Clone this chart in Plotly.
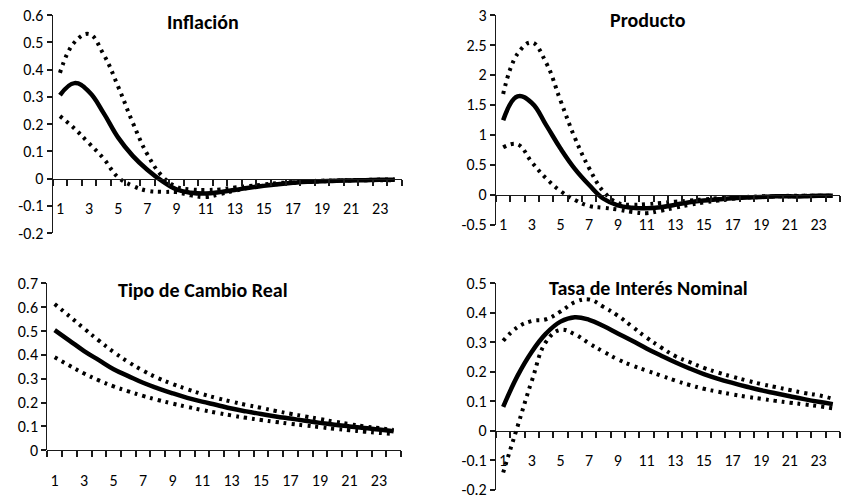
import plotly.graph_objects as go

periods = list(range(1, 25))
x_tick_labels = ['1', '3', '5', '7', '9', '11', '13', '15', '17', '19', '21', '23']

titles = ['Inflación', 'Producto', 'Tipo de Cambio Real', 'Tasa de Interés Nominal']

infl_mean = [0.306, 0.35, 0.318, 0.24, 0.15, 0.083, 0.032, -0.009, -0.04, -0.052, -0.055, -0.05,
             -0.042, -0.034, -0.027, -0.021, -0.016, -0.012, -0.01, -0.008, -0.007, -0.006, -0.005, -0.005]
infl_upper = [0.388, 0.50, 0.53, 0.455, 0.337, 0.205, 0.089, 0.01, -0.03, -0.04, -0.042, -0.04,
              -0.033, -0.028, -0.022, -0.017, -0.013, -0.01, -0.008, -0.007, -0.006, -0.005, -0.004, -0.004]
infl_lower = [0.229, 0.183, 0.129, 0.073, 0.004, -0.027, -0.045, -0.049, -0.05, -0.062, -0.068, -0.057,
              -0.045, -0.034, -0.026, -0.02, -0.015, -0.012, -0.01, -0.008, -0.007, -0.006, -0.006, -0.006]

prod_mean = [1.24, 1.64, 1.53, 1.16, 0.77, 0.43, 0.16, -0.07, -0.18, -0.22, -0.23, -0.21,
             -0.17, -0.13, -0.10, -0.08, -0.06, -0.05, -0.04, -0.03, -0.03, -0.03, -0.02, -0.02]
prod_upper = [1.68, 2.35, 2.54, 2.2, 1.57, 0.95, 0.44, 0.05, -0.14, -0.17, -0.16, -0.14,
              -0.12, -0.1, -0.08, -0.06, -0.05, -0.04, -0.03, -0.03, -0.02, -0.02, -0.02, -0.02]
prod_lower = [0.79, 0.84, 0.54, 0.27, 0.06, -0.09, -0.19, -0.22, -0.25, -0.29, -0.31, -0.27,
              -0.22, -0.17, -0.13, -0.1, -0.07, -0.05, -0.04, -0.03, -0.03, -0.02, -0.02, -0.02]

tcr_mean = [0.504, 0.46, 0.416, 0.378, 0.34, 0.311, 0.283, 0.26, 0.239, 0.22, 0.204, 0.19,
            0.175, 0.163, 0.152, 0.142, 0.133, 0.124, 0.115, 0.107, 0.1, 0.093, 0.087, 0.08]
tcr_upper = [0.613, 0.562, 0.51, 0.46, 0.412, 0.37, 0.334, 0.303, 0.278, 0.256, 0.236, 0.219,
             0.204, 0.19, 0.178, 0.165, 0.153, 0.142, 0.131, 0.12, 0.11, 0.1, 0.093, 0.085]
tcr_lower = [0.39, 0.355, 0.322, 0.293, 0.268, 0.247, 0.228, 0.211, 0.196, 0.182, 0.169, 0.157,
             0.146, 0.136, 0.127, 0.119, 0.111, 0.104, 0.097, 0.09, 0.084, 0.078, 0.073, 0.068]

tasa_mean = [0.081, 0.186, 0.268, 0.33, 0.37, 0.385, 0.376, 0.355, 0.33, 0.305, 0.279, 0.255,
             0.232, 0.211, 0.192, 0.176, 0.162, 0.149, 0.137, 0.127, 0.117, 0.107, 0.098, 0.09]
tasa_upper = [0.305, 0.351, 0.372, 0.378, 0.404, 0.436, 0.445, 0.42, 0.39, 0.353, 0.316, 0.283,
              0.253, 0.233, 0.213, 0.197, 0.183, 0.17, 0.158, 0.148, 0.138, 0.128, 0.12, 0.108]
tasa_lower = [-0.142, 0.014, 0.169, 0.302, 0.342, 0.327, 0.296, 0.268, 0.242, 0.221, 0.204, 0.187,
              0.17, 0.155, 0.142, 0.132, 0.123, 0.115, 0.108, 0.101, 0.095, 0.089, 0.083, 0.076]

y_tick_labels = [
    ['-0.2', '-0.1', '0', '0.1', '0.2', '0.3', '0.4', '0.5', '0.6'],
    ['-0.5', '0', '0.5', '1', '1.5', '2', '2.5', '3'],
    ['0', '0.1', '0.2', '0.3', '0.4', '0.5', '0.6', '0.7'],
    ['-0.2', '-0.1', '0', '0.1', '0.2', '0.3', '0.4', '0.5'],
]

series = [
    (infl_mean, infl_upper, infl_lower),
    (prod_mean, prod_upper, prod_lower),
    (tcr_mean, tcr_upper, tcr_lower),
    (tasa_mean, tasa_upper, tasa_lower),
]

W, H = 842, 498
# panel boxes in pixels: (left, right, top, bottom)
boxes = [
    (52.7, 402.0, 15.0, 233.0),
    (496.0, 840.0, 15.0, 224.5),
    (47.3, 401.0, 283.3, 450.3),
    (496.0, 840.0, 283.3, 489.6),
]
title_pos = [(203, 22), (648, 20), (203, 290), (648, 288)]

FONT = 'Calibri, Carlito, Lato, sans-serif'
AX = '#1a1a1a'

fig = go.Figure()
layout = dict(
    width=W, height=H,
    margin=dict(l=0, r=0, t=0, b=0, pad=0, autoexpand=False),
    plot_bgcolor='white', paper_bgcolor='white',
    showlegend=False,
    font=dict(family=FONT, size=16, color='black'),
    annotations=[],
)

x_first = int(x_tick_labels[0])
x_step = int(x_tick_labels[1]) - int(x_tick_labels[0])

for i, ((m, u, lo), ylab, box) in enumerate(zip(series, y_tick_labels, boxes)):
    n = i + 1
    xs = 'x' if n == 1 else f'x{n}'
    xo = f'x{n + 4}'
    ys = 'y' if n == 1 else f'y{n}'
    # confidence bands on the overlay axis (which draws the category-boundary tick marks)
    for vals in (u, lo):
        fig.add_trace(go.Scatter(
            x=periods, y=vals, mode='lines', xaxis=xo, yaxis=ys,
            line=dict(color='black', width=4, dash='3px,5px', shape='spline', smoothing=1.2),
            hoverinfo='skip'))
    fig.add_trace(go.Scatter(
        x=periods, y=m, mode='lines', xaxis=xs, yaxis=ys,
        line=dict(color='black', width=4.5, shape='spline', smoothing=1.2),
        hoverinfo='skip'))
    yvals = [float(t) for t in ylab]
    ymin, ymax = yvals[0], yvals[-1]
    l, r, t, b = box
    xd = [l / W, r / W]
    yd = [1 - b / H, 1 - t / H]
    zero_pos = yd[0] + (0 - ymin) / (ymax - ymin) * (yd[1] - yd[0])
    layout['xaxis' if n == 1 else f'xaxis{n}'] = dict(
        domain=xd, range=[0.5, 24.5], anchor='free', position=zero_pos,
        tickmode='linear', tick0=x_first, dtick=x_step, automargin=False,
        ticks='', showline=True, linecolor=AX, linewidth=1.2, showgrid=False, zeroline=False,
        ticklabelstandoff=15, tickfont=dict(size=16, family=FONT, color='black'),
    )
    layout[f'xaxis{n + 4}'] = dict(
        domain=xd, range=[0.5, 24.5], anchor='free', position=zero_pos, overlaying=xs,
        tickmode='linear', tick0=0.5, dtick=1, ticks='outside', ticklen=6, tickcolor=AX, tickwidth=1.6,
        showticklabels=False, showline=False, showgrid=False, zeroline=False, automargin=False,
    )
    layout['yaxis' if n == 1 else f'yaxis{n}'] = dict(
        domain=yd, range=[ymin, ymax], anchor=xs, automargin=False, ticklabeloverflow='allow',
        tickmode='array', tickvals=yvals, ticktext=ylab,
        ticks='outside', ticklen=5, tickcolor=AX, tickwidth=1.6, showline=True, linecolor=AX, linewidth=1.2,
        showgrid=False, zeroline=False, tickfont=dict(size=16, family=FONT, color='black'),
    )
    tx, ty = title_pos[i]
    layout['annotations'].append(dict(
        text=f'<b>{titles[i]}</b>', x=tx / W, y=1 - ty / H, xref='paper', yref='paper',
        xanchor='center', yanchor='middle', showarrow=False,
        font=dict(family=FONT, size=20, color='black')))

fig.update_layout(**layout)
fig.write_html('out.html', config={'displayModeBar': False},
               post_script="document.body.style.margin='0';document.body.style.overflow='hidden';")
